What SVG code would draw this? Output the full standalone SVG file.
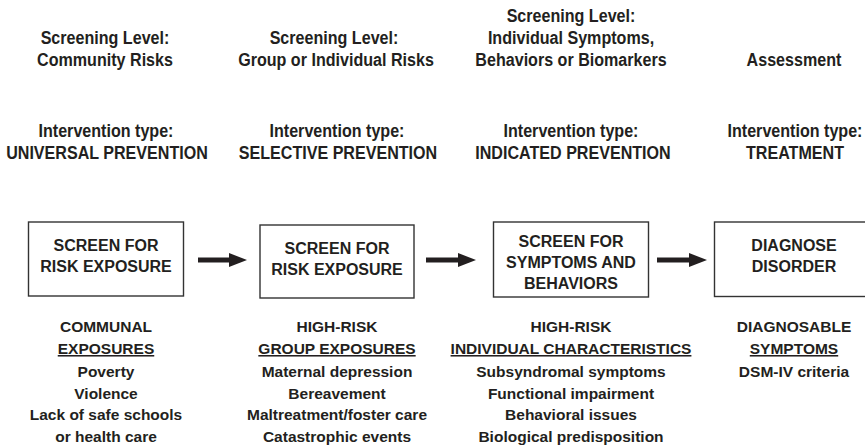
<svg xmlns="http://www.w3.org/2000/svg" width="865" height="445" viewBox="0 0 865 445">
<defs>
<style>
text{font-family:"Liberation Sans",Arial,Helvetica,sans-serif;font-weight:bold;fill:#231f20;text-anchor:middle}
.hd{font-size:18.5px}
.bx{font-size:16px}
.ls{font-size:15.5px}
.u{text-decoration:underline}
rect.node{fill:#fff;stroke:#333;stroke-width:1.4}
.conn{stroke:#231f20;stroke-width:5;fill:none}
</style>
<marker id="ah" markerUnits="userSpaceOnUse" markerWidth="19" markerHeight="15" refX="0" refY="7" orient="auto" viewBox="0 0 19 15">
<path d="M0,0 L18,7 L0,14 z" fill="#231f20"/>
</marker>
</defs>
<rect width="865" height="445" fill="#fff"/>

<g id="headers">
<text class="hd" transform="translate(105,44) scale(0.87,1)">Screening Level:</text>
<text class="hd" transform="translate(105,66) scale(0.87,1)">Community Risks</text>
<text class="hd" transform="translate(334,44) scale(0.87,1)">Screening Level:</text>
<text class="hd" transform="translate(336,66) scale(0.87,1)">Group or Individual Risks</text>
<text class="hd" transform="translate(571,22) scale(0.87,1)">Screening Level:</text>
<text class="hd" transform="translate(571,44) scale(0.87,1)">Individual Symptoms,</text>
<text class="hd" transform="translate(571,66) scale(0.87,1)">Behaviors or Biomarkers</text>
<text class="hd" transform="translate(794,66) scale(0.87,1)">Assessment</text>

<text class="hd" transform="translate(106,137) scale(0.87,1)">Intervention type:</text>
<text class="hd" transform="translate(107,159) scale(0.87,1)">UNIVERSAL PREVENTION</text>
<text class="hd" transform="translate(337,137) scale(0.87,1)">Intervention type:</text>
<text class="hd" transform="translate(338,159) scale(0.87,1)">SELECTIVE PREVENTION</text>
<text class="hd" transform="translate(571,137) scale(0.87,1)">Intervention type:</text>
<text class="hd" transform="translate(573,159) scale(0.87,1)">INDICATED PREVENTION</text>
<text class="hd" transform="translate(795,137) scale(0.87,1)">Intervention type:</text>
<text class="hd" transform="translate(795,159) scale(0.87,1)">TREATMENT</text>
</g>

<g id="node1">
<rect class="node" x="28.5" y="222" width="155" height="74"/>
<text class="bx" x="106" y="251">SCREEN FOR</text>
<text class="bx" x="106" y="272">RISK EXPOSURE</text>
</g>
<g id="node2">
<rect class="node" x="260" y="225" width="154" height="73"/>
<text class="bx" x="337" y="254">SCREEN FOR</text>
<text class="bx" x="337" y="275">RISK EXPOSURE</text>
</g>
<g id="node3">
<rect class="node" x="493.5" y="222" width="155" height="75"/>
<text class="bx" x="571" y="246.5">SCREEN FOR</text>
<text class="bx" x="571" y="267.5">SYMPTOMS AND</text>
<text class="bx" x="571" y="288.5">BEHAVIORS</text>
</g>
<g id="node4">
<rect class="node" x="714.5" y="222" width="158" height="74.5"/>
<text class="bx" x="794" y="251">DIAGNOSE</text>
<text class="bx" x="794" y="272">DISORDER</text>
</g>

<g id="connectors">
<line class="conn" x1="198" y1="260" x2="229" y2="260" marker-end="url(#ah)"/>
<line class="conn" x1="426" y1="260" x2="458" y2="260" marker-end="url(#ah)"/>
<line class="conn" x1="657" y1="260" x2="689" y2="260" marker-end="url(#ah)"/>
</g>

<g id="list1">
<text class="ls" x="106" y="332">COMMUNAL</text>
<text class="ls u" x="106" y="354">EXPOSURES</text>
<text class="ls" x="106" y="377">Poverty</text>
<text class="ls" x="106" y="398.5">Violence</text>
<text class="ls" x="106" y="420">Lack of safe schools</text>
<text class="ls" x="106" y="441.5">or health care</text>
</g>
<g id="list2">
<text class="ls" x="337" y="332">HIGH-RISK</text>
<text class="ls u" x="337" y="354">GROUP EXPOSURES</text>
<text class="ls" x="337" y="377">Maternal depression</text>
<text class="ls" x="337" y="398.5">Bereavement</text>
<text class="ls" x="337" y="420">Maltreatment/foster care</text>
<text class="ls" x="337" y="441.5">Catastrophic events</text>
</g>
<g id="list3">
<text class="ls" x="571" y="332">HIGH-RISK</text>
<text class="ls u" x="571" y="354">INDIVIDUAL CHARACTERISTICS</text>
<text class="ls" x="571" y="377">Subsyndromal symptoms</text>
<text class="ls" x="571" y="398.5">Functional impairment</text>
<text class="ls" x="571" y="420">Behavioral issues</text>
<text class="ls" x="571" y="441.5">Biological predisposition</text>
</g>
<g id="list4">
<text class="ls" x="794" y="332">DIAGNOSABLE</text>
<text class="ls u" x="794" y="354">SYMPTOMS</text>
<text class="ls" x="794" y="377">DSM-IV criteria</text>
</g>
</svg>
